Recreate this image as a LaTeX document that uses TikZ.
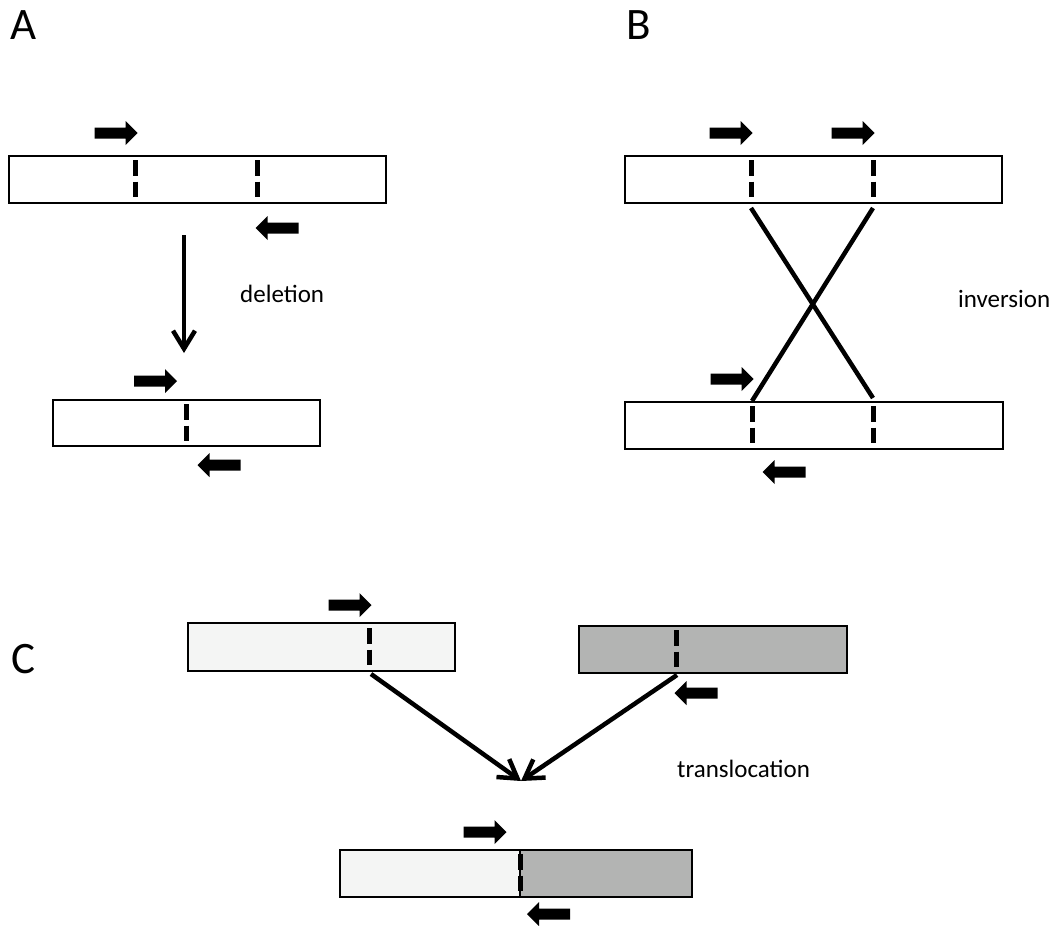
\documentclass[tikz,border=0pt]{standalone}
\usepackage{fontspec}
\setmainfont{Carlito}
\usetikzlibrary{arrows.meta}
\definecolor{lightchr}{HTML}{F4F5F4}
\definecolor{darkchr}{HTML}{B3B4B3}
\tikzset{
  chrom/.style={draw=black, line width=2.5pt, fill=white, inner sep=0pt, outer sep=0pt},
  outline/.style={draw=black, line width=2.5pt},
  brk/.style={line width=5pt, dash pattern=on 15.5pt off 6pt},
  link/.style={line width=4.5pt},
  flow/.style={line width=4.5pt, -{Straight Barb[length=18pt, width=22pt]}},
  lbl/.style={font=\fontsize{25}{28}\selectfont, inner sep=0pt, anchor=base west},
  panel/.style={font=\fontsize{45}{50}\selectfont, inner sep=0pt, anchor=base west},
  fwd/.pic={\fill[black] (-21.5,-5.5) -- (9.5,-5.5) -- (9.5,-12) -- (21.5,0) -- (9.5,12) -- (9.5,5.5) -- (-21.5,5.5) -- cycle;},
  rev/.pic={\fill[black] (21.5,-5.5) -- (-9.5,-5.5) -- (-9.5,-12) -- (-21.5,0) -- (-9.5,12) -- (-9.5,5.5) -- (21.5,5.5) -- cycle;}
}
\begin{document}
\begin{tikzpicture}[x=1pt, y=-1pt]
\useasboundingbox (0,0) rectangle (1058,926);

% panel labels
\node[panel] (lA) at (10,39) {A};
\node[panel] (lB) at (626,39) {B};
\node[panel] (lC) at (11,673) {C};

% ---------- A ----------
\node[chrom, minimum width=377pt, minimum height=47pt] (a1) at (197.5,179.5) {};
\draw[brk] (135,160) -- (135,197);
\draw[brk] (257,160) -- (257,197);
\pic at (116,133) {fwd};
\pic at (277,228) {rev};
\coordinate (dtop) at (184,235);
\coordinate (dbot) at (184,353);
\draw[flow] (dtop) -- (dbot);
\node[lbl] (tdel) at (240,302) {deletion};
\node[chrom, minimum width=267pt, minimum height=46pt] (a2) at (186.5,423) {};
\draw[brk] (186,404) -- (186,441);
\pic at (155.5,381) {fwd};
\pic at (219,465) {rev};

% ---------- B ----------
\node[chrom, minimum width=377pt, minimum height=47pt] (b1) at (813.5,179.5) {};
\draw[brk] (751,160) -- (751,197);
\draw[brk] (873,160) -- (873,197);
\pic at (731,133) {fwd};
\pic at (853,133) {fwd};
\node[chrom, minimum width=378pt, minimum height=47pt] (b2) at (814,425.5) {};
\draw[brk] (752,406) -- (752,443);
\draw[brk] (873,406) -- (873,443);
\pic at (732,379) {fwd};
\pic at (784,472) {rev};
\coordinate (bu1) at (751,208);
\coordinate (bu2) at (873,208);
\coordinate (bl1) at (752,401);
\coordinate (bl2) at (873,398);
\draw[link] (bu1) -- (bl2);
\draw[link] (bu2) -- (bl1);
\node[lbl] (tinv) at (958,307) {inversion};

% ---------- C ----------
\node[chrom, fill=lightchr, minimum width=267pt, minimum height=48pt] (c1) at (321.5,647) {};
\draw[brk] (369,628) -- (369,665);
\pic at (350,605) {fwd};
\node[chrom, fill=darkchr, minimum width=268pt, minimum height=47pt] (c2) at (713,649.5) {};
\draw[brk] (676,630) -- (676,667);
\pic at (696,693) {rev};
\coordinate (c1b) at (371,674);
\coordinate (c2b) at (677,675);
\coordinate (ctip) at (521,781);
\draw[flow] (c1b) -- (ctip);
\draw[flow] (c2b) -- (ctip);
\node[lbl] (ttrans) at (677,777) {translocation};
\node[chrom, fill=lightchr, minimum width=180pt, minimum height=47pt] (c3l) at (430,873.5) {};
\node[chrom, fill=darkchr, minimum width=172pt, minimum height=47pt] (c3r) at (606,873.5) {};
\draw[outline] (c3l.north west) rectangle (c3r.south east);
\draw[brk] (520,854) -- (520,893);
\draw[line width=1pt] (520,850) -- (520,897);
\pic at (485,832) {fwd};
\pic at (548.5,914) {rev};
\end{tikzpicture}
\end{document}
